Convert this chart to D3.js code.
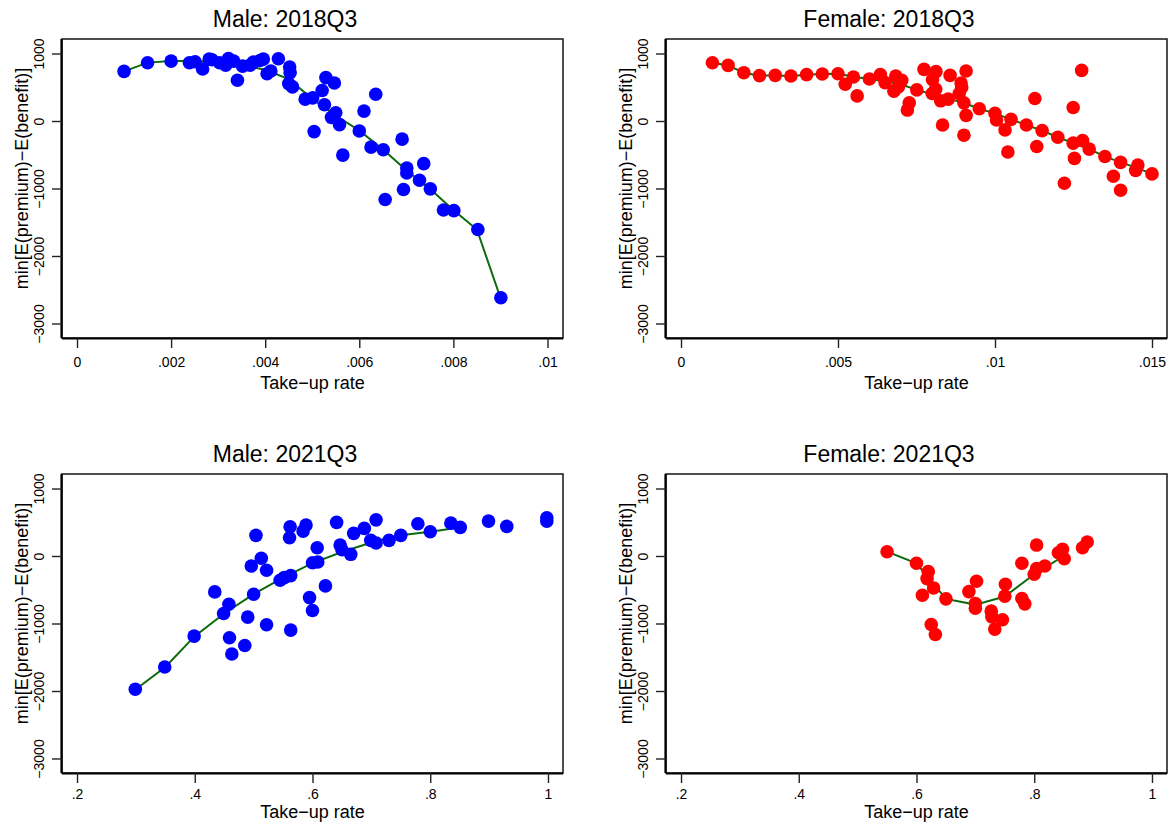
<!DOCTYPE html>
<html>
<head>
<meta charset="utf-8">
<script src="https://cdn.jsdelivr.net/npm/d3@7"></script>
<style>
  html, body { margin: 0; padding: 0; background: #fff; }
  svg { display: block; font-family: "Liberation Sans", Arial, Helvetica, sans-serif; }
</style>
</head>
<body>
<svg id="chart" width="1169" height="825"></svg>
<script>
// Take-up rate vs. minimum expected premium minus expected benefit, by sex and quarter

// --- Male, 2018Q3: observations [take-up rate, value] ---
const male2018 = [
  [0.0010, 735], [0.0015, 863], [0.0020, 887], [0.00239, 863], [0.00251, 878],
  [0.00267, 770], [0.00281, 917], [0.00287, 907], [0.00303, 863], [0.00316, 828],
  [0.00322, 926], [0.00333, 887], [0.00341, 603], [0.00352, 813], [0.00368, 828],
  [0.00375, 872], [0.00389, 897], [0.00396, 917], [0.00404, 701], [0.00412, 740],
  [0.00428, 922], [0.00452, 799], [0.00453, 716], [0.00450, 554], [0.00458, 505],
  [0.00485, 324], [0.00501, 343], [0.00504, -157], [0.00529, 643], [0.00547, 563],
  [0.00521, 451], [0.00526, 240], [0.00635, 397], [0.00550, 122], [0.00541, 54],
  [0.00558, -54], [0.00610, 147], [0.00600, -147], [0.00565, -505], [0.00625, -387],
  [0.00651, -426], [0.00691, -269], [0.00701, -696], [0.00701, -770], [0.00737, -632],
  [0.00728, -878], [0.00694, -1015], [0.00751, -1005], [0.00655, -1162], [0.00779, -1319],
  [0.00801, -1328], [0.00852, -1608], [0.00901, -2618]
];
const male2018Fit = [
  [0.0010, 735], [0.0015, 865], [0.0020, 890], [0.0025, 890], [0.0030, 875],
  [0.0035, 830], [0.0040, 760], [0.0045, 620], [0.0050, 330], [0.0055, 80],
  [0.0060, -140], [0.0065, -420], [0.0070, -730], [0.0075, -1005], [0.0080, -1320],
  [0.0085, -1608], [0.0090, -2618]
];

// --- Female, 2018Q3 ---
const female2018 = [
  [0.0010, 863], [0.0015, 824], [0.0020, 716], [0.0025, 672], [0.0030, 676],
  [0.0035, 666], [0.0040, 687], [0.0045, 696], [0.0050, 701], [0.00523, 544],
  [0.00549, 652], [0.00561, 372], [0.0060, 622], [0.00635, 687], [0.0065, 569],
  [0.00684, 666], [0.00703, 603], [0.00678, 441], [0.00692, 505], [0.00697, 560],
  [0.00727, 269], [0.00721, 162], [0.00751, 461], [0.00774, 765], [0.00812, 731],
  [0.00801, 613], [0.00811, 471], [0.0080, 407], [0.00827, 299], [0.00851, 324],
  [0.00857, 676], [0.00892, 564], [0.00894, 496], [0.00886, 407], [0.00908, 740],
  [0.00901, 269], [0.00908, 84], [0.00833, -59], [0.00901, -210], [0.0095, 181],
  [0.0100, 113], [0.01005, 15], [0.01032, -132], [0.01051, 25], [0.01041, -460],
  [0.0110, -59], [0.01127, 333], [0.01133, -377], [0.0115, -142], [0.0120, -240],
  [0.01249, 201], [0.01276, 750], [0.01249, -328], [0.01279, -290], [0.01253, -554],
  [0.0130, -416], [0.01221, -922], [0.0135, -525], [0.0140, -613], [0.01377, -819],
  [0.0140, -1025], [0.01455, -652], [0.01448, -731], [0.0150, -784]
];
const female2018Fit = [
  [0.0010, 863], [0.0015, 824], [0.0020, 716], [0.0025, 672], [0.0030, 676],
  [0.0035, 666], [0.0040, 687], [0.0045, 696], [0.0050, 701], [0.0055, 655],
  [0.0060, 622], [0.0065, 590], [0.0070, 545], [0.0075, 461], [0.0080, 400],
  [0.0085, 335], [0.0090, 270], [0.0095, 181], [0.0100, 113], [0.0105, 25],
  [0.0110, -59], [0.0115, -142], [0.0120, -240], [0.0125, -328], [0.0130, -416],
  [0.0135, -525], [0.0140, -613], [0.0145, -690], [0.0150, -784]
];

// --- Male, 2021Q3 ---
const male2021 = [
  [0.299, -1975], [0.349, -1645], [0.399, -1187], [0.434, -532], [0.449, -852],
  [0.458, -714], [0.459, -1211], [0.463, -1452], [0.485, -1325], [0.490, -906],
  [0.496, -148], [0.500, -566], [0.504, 306], [0.513, -34], [0.522, -211],
  [0.522, -1019], [0.545, -359], [0.552, -320], [0.563, -291], [0.563, -1098],
  [0.562, 433], [0.561, 271], [0.589, 458], [0.584, 369], [0.608, 123],
  [0.600, -99], [0.609, -89], [0.595, -616], [0.600, -808], [0.622, -443],
  [0.641, 498], [0.647, 162], [0.708, 536], [0.688, 409], [0.670, 335],
  [0.650, 93], [0.665, 25], [0.699, 232], [0.708, 192], [0.730, 232],
  [0.750, 306], [0.779, 477], [0.800, 359], [0.835, 487], [0.851, 424],
  [0.899, 517], [0.930, 439], [0.998, 566], [0.998, 517]
];
const male2021Fit = [
  [0.30, -1975], [0.35, -1645], [0.40, -1187], [0.45, -852], [0.50, -566],
  [0.55, -320], [0.60, -105], [0.65, 60], [0.70, 200], [0.75, 306],
  [0.80, 359], [0.85, 424]
];

// --- Female, 2021Q3 ---
const female2021 = [
  [0.550, 64], [0.600, -108], [0.620, -232], [0.618, -335], [0.629, -473],
  [0.610, -581], [0.650, -635], [0.625, -1015], [0.632, -1162], [0.689, -527],
  [0.702, -374], [0.700, -704], [0.700, -773], [0.727, -817], [0.728, -901],
  [0.746, -945], [0.733, -1083], [0.751, -418], [0.750, -595], [0.779, -630],
  [0.784, -709], [0.779, -108], [0.800, -271], [0.804, -187], [0.818, -148],
  [0.804, 162], [0.841, 49], [0.848, 99], [0.851, -40], [0.882, 123],
  [0.890, 207]
];
const female2021Fit = [
  [0.55, 64], [0.60, -108], [0.65, -635], [0.70, -720], [0.75, -600],
  [0.80, -271], [0.85, 0]
];

// Axis ticks and their labels
const yTicks = [1000, 0, -1000, -2000, -3000];
const yTickLabels = ["1000", "0", "\u22121000", "\u22122000", "\u22123000"];
const xTicks2018Male = [0, 0.002, 0.004, 0.006, 0.008, 0.01];
const xLabels2018Male = ["0", ".002", ".004", ".006", ".008", ".01"];
const xTicks2018Female = [0, 0.005, 0.01, 0.015];
const xLabels2018Female = ["0", ".005", ".01", ".015"];
const xTicks2021 = [0.2, 0.4, 0.6, 0.8, 1];
const xLabels2021 = [".2", ".4", ".6", ".8", "1"];

const titles = ["Male: 2018Q3", "Female: 2018Q3", "Male: 2021Q3", "Female: 2021Q3"];
const yTitle = "min[E(premium)\u2212E(benefit)]";
const xTitle = "Take\u2212up rate";

const panels = [
  { title: titles[0], pts: male2018, fit: male2018Fit, color: "#0000ff",
    xDomain: [-0.000319, 0.01033], ticks: xTicks2018Male, labels: xLabels2018Male, col: 0, row: 0 },
  { title: titles[1], pts: female2018, fit: female2018Fit, color: "#ff0000",
    xDomain: [-0.000478, 0.015478], ticks: xTicks2018Female, labels: xLabels2018Female, col: 1, row: 0 },
  { title: titles[2], pts: male2021, fit: male2021Fit, color: "#0000ff",
    xDomain: [0.1745, 1.0255], ticks: xTicks2021, labels: xLabels2021, col: 0, row: 1 },
  { title: titles[3], pts: female2021, fit: female2021Fit, color: "#ff0000",
    xDomain: [0.1745, 1.0255], ticks: xTicks2021, labels: xLabels2021, col: 1, row: 1 }
];

const svg = d3.select("#chart");
const colLeft = [62, 666];
const rowTop = [39, 474];
// the lower row sits closer to the bottom edge, so its axis text is tighter
const tickTextY = [19, 16];
const xTitleGap = [51, 45];
const plotW = 501, plotH = 299;
const yDomain = [-3215, 1215];

panels.forEach(p => {
  const left = colLeft[p.col], top = rowTop[p.row];
  const g = svg.append("g").attr("transform", `translate(${left},${top})`);
  const x = d3.scaleLinear().domain(p.xDomain).range([0, plotW]);
  const y = d3.scaleLinear().domain(yDomain).range([plotH, 0]);

  // plot frame
  g.append("rect")
    .attr("x", 0).attr("y", 0).attr("width", plotW).attr("height", plotH)
    .attr("fill", "#fff").attr("stroke", "#222").attr("stroke-width", 1.6);

  // fitted line
  g.append("path")
    .datum(p.fit)
    .attr("fill", "none")
    .attr("stroke", "#0c6a0c")
    .attr("stroke-width", 2)
    .attr("d", d3.line().x(d => x(d[0])).y(d => y(d[1])));

  // observations
  g.append("g").selectAll("circle")
    .data(p.pts)
    .join("circle")
    .attr("cx", d => x(d[0]))
    .attr("cy", d => y(d[1]))
    .attr("r", 6.8)
    .attr("fill", p.color);

  // x axis
  const xAxis = g.append("g")
    .attr("transform", `translate(0,${plotH})`)
    .call(d3.axisBottom(x).tickValues(p.ticks).tickSize(10).tickSizeOuter(0)
      .tickFormat((d, i) => p.labels[i]));
  xAxis.select(".domain").attr("stroke", "#000").attr("stroke-width", 2.2)
    .attr("d", `M0,0.5H${plotW}`);
  xAxis.selectAll(".tick line").attr("stroke", "#222").attr("stroke-width", 1.4);
  xAxis.selectAll(".tick text")
    .attr("y", tickTextY[p.row]).attr("dy", "0.71em")
    .attr("font-size", 14).attr("fill", "#000")
    .attr("font-family", "Liberation Sans, Arial, sans-serif");

  // y axis with vertical tick labels
  const yAxis = g.append("g")
    .call(d3.axisLeft(y).tickValues(yTicks).tickSize(10).tickSizeOuter(0)
      .tickFormat((d, i) => yTickLabels[i]));
  yAxis.select(".domain").attr("stroke", "#000").attr("stroke-width", 2.2)
    .attr("d", `M-0.5,0V${plotH}`);
  yAxis.selectAll(".tick line").attr("stroke", "#222").attr("stroke-width", 1.4);
  yAxis.selectAll(".tick text")
    .attr("x", null).attr("dy", null)
    .attr("transform", "translate(-18,0) rotate(-90)")
    .attr("text-anchor", "middle")
    .attr("font-size", 14).attr("fill", "#000")
    .attr("font-family", "Liberation Sans, Arial, sans-serif");

  // panel title
  g.append("text")
    .attr("x", 223).attr("y", -12)
    .attr("text-anchor", "middle")
    .attr("font-size", 23).attr("fill", "#000")
    .text(p.title);

  // x-axis title
  g.append("text")
    .attr("x", plotW / 2).attr("y", plotH + xTitleGap[p.row])
    .attr("text-anchor", "middle")
    .attr("font-size", 18).attr("fill", "#000")
    .text(xTitle);

  // y-axis title
  g.append("text")
    .attr("transform", `translate(-34,${plotH / 2 - 10}) rotate(-90)`)
    .attr("text-anchor", "middle")
    .attr("font-size", 18).attr("fill", "#000")
    .text(yTitle);
});
</script>
</body>
</html>
